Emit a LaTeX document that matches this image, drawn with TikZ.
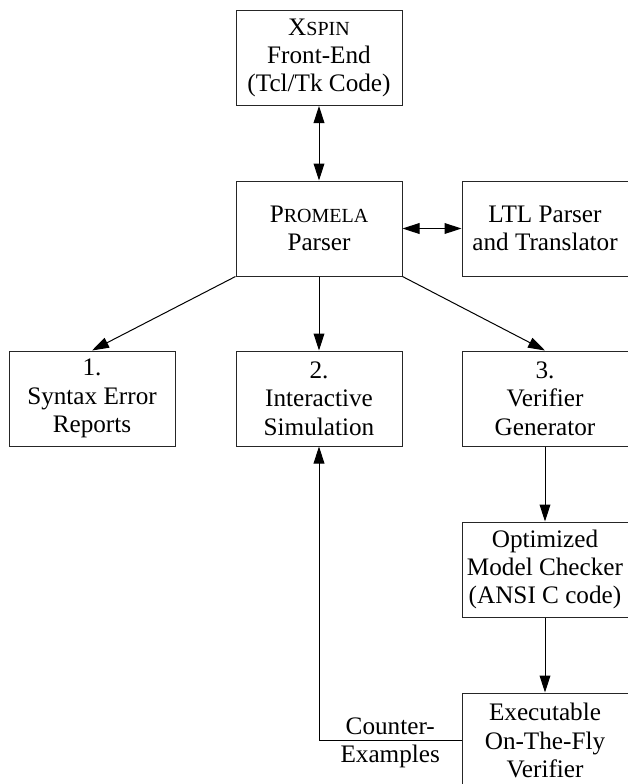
\documentclass[tikz,border=0pt]{standalone}
\usepackage{fontspec}
\setmainfont{Liberation Serif}
\usetikzlibrary{arrows.meta}
\newcommand{\smc}[1]{{\fontsize{10}{14.15}\selectfont #1}}
\begin{document}
\begin{tikzpicture}[x=0.5pt,y=-0.5pt,
  box/.style={draw=black!85, line width=0.5pt, minimum width=83pt, minimum height=47.5pt,
    inner sep=0pt, align=center, font=\fontsize{12.6}{14.15}\selectfont},
  arr/.style={line width=0.5pt, -{Triangle[length=8.5pt,width=5.4pt]}},
  darr/.style={line width=0.5pt, {Triangle[length=8.5pt,width=5.4pt]}-{Triangle[length=8.5pt,width=5.4pt]}},
  lbl/.style={font=\fontsize{12.6}{14}\selectfont, align=center, inner sep=0pt}]
\useasboundingbox (0,0) rectangle (628,784);
\node[box] (xspin) at (319,58) {X\smc{SPIN}\\Front-End\\(Tcl/Tk Code)};
\node[box] (prom) at (319,228.5) {P\smc{ROMELA}\\Parser};
\node[box] (ltl) at (545,228.5) {LTL Parser\\and Translator};
\node[box] (syn) at (92,398.5) {1.\\Syntax Error\\Reports};
\node[box] (sim) at (319,398.5) {2.\\Interactive\\Simulation};
\node[box] (ver) at (545,398.5) {3.\\Verifier\\Generator};
\node[box] (opt) at (545,569.5) {Optimized\\Model Checker\\(ANSI C code)};
\node[box] (exe) at (545,740.5) {Executable\\On-The-Fly\\Verifier};
\draw[darr] (xspin.south) -- (prom.north);
\draw[darr] (prom.east) -- (ltl.west);
\draw[arr] (prom.south west) -- (syn.north);
\draw[arr] (prom.south) -- (sim.north);
\draw[arr] (prom.south east) -- (ver.north);
\draw[arr] (ver.south) -- (opt.north);
\draw[arr] (opt.south) -- (exe.north);
\coordinate (bend) at (exe.west -| sim.south);
\draw[arr] (exe.west) -- node[lbl, yshift=-1pt]{Counter-\\Examples} (bend) -- (sim.south);
\end{tikzpicture}
\end{document}
